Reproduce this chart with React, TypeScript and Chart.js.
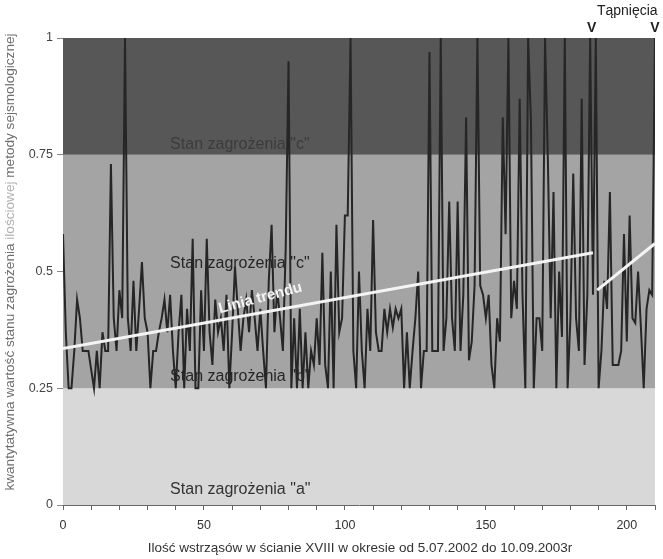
import React, { useEffect, useRef } from 'react';
import { Chart, registerables } from 'chart.js';

Chart.register(...registerables);

const FONT = '"Liberation Sans", Arial, sans-serif';

// Quantitative threat value for consecutive tremors (index = tremor number)
const threatValues = [
  0.58, 0.37, 0.25, 0.25, 0.33, 0.44, 0.40, 0.33, 0.33, 0.33,
  0.29, 0.25, 0.33, 0.25, 0.37, 0.33, 0.33, 0.73, 0.40, 0.33,
  0.46, 0.40, 1.00, 0.40, 0.33, 0.48, 0.33, 0.42, 0.52, 0.40,
  0.37, 0.25, 0.33, 0.33, 0.37, 0.40, 0.44, 0.37, 0.45, 0.33,
  0.25, 0.37, 0.45, 0.25, 0.42, 0.33, 0.57, 0.25, 0.25, 0.46,
  0.33, 0.57, 0.37, 0.30, 0.44, 0.37, 0.40, 0.33, 0.45, 0.25,
  0.37, 0.51, 0.42, 0.33, 0.40, 0.44, 0.37, 0.46, 0.40, 0.33,
  0.42, 0.33, 0.25, 0.48, 0.60, 0.37, 0.46, 0.40, 0.33, 0.55,
  0.95, 0.25, 0.40, 0.25, 0.42, 0.25, 0.37, 0.25, 0.33, 0.30,
  0.40, 0.30, 0.54, 0.30, 0.25, 0.50, 0.25, 0.60, 0.37, 0.40,
  0.62, 0.62, 1.00, 0.33, 0.25, 0.50, 0.33, 0.25, 0.42, 0.33,
  0.61, 0.37, 0.33, 0.33, 0.42, 0.37, 0.42, 0.38, 0.42, 0.40,
  0.42, 0.25, 0.37, 0.25, 0.33, 0.40, 0.50, 0.25, 0.33, 0.33,
  0.97, 0.33, 0.33, 0.33, 1.00, 0.33, 0.40, 0.65, 0.40, 0.33,
  0.65, 0.33, 0.45, 0.83, 0.31, 0.35, 0.47, 1.00, 0.47, 0.45,
  0.40, 0.45, 0.30, 0.25, 0.40, 0.35, 0.83, 0.58, 1.00, 0.40,
  0.48, 0.42, 0.87, 0.45, 0.25, 1.00, 0.82, 0.25, 0.40, 0.40,
  0.33, 1.00, 0.74, 0.40, 0.67, 0.25, 0.50, 0.36, 1.00, 0.25,
  0.40, 0.71, 0.40, 0.33, 0.87, 0.30, 0.45, 1.00, 0.45, 1.00,
  0.25, 0.33, 0.48, 0.42, 0.67, 0.30, 0.30, 0.30, 0.33, 0.58,
  0.35, 0.62, 0.40, 0.39, 0.50, 0.38, 0.25, 0.42, 0.46, 0.45,
  1.00,
];

// Trend lines (two segments: before and after the first rockburst)
const trendAX = [0, 188];
const trendAY = [0.335, 0.54];
const trendBX = [189.5, 210];
const trendBY = [0.46, 0.56];

// Threat-state bands
const bandLimits = [0, 0.25, 0.75, 1];
const bandColors = ['#d8d8d8', '#a4a4a4', '#575757'];
const bandLabels = [
  'Stan zagrożenia "a"',
  'Stan zagrożenia "b"',
  'Stan zagrożenia "c"',
  'Stan zagrożenia "c"',
];
const bandLabelY = [0.032, 0.276, 0.518, 0.771];
const bandLabelColors = ['#333333', '#262626', '#262626', '#3c3c3c'];

// Rockbursts (Tąpnięcia)
const rockburstX = [187.5, 210];

const xLabelEvery = 50;
const yTitleParts = [
  { text: 'kwantytatywna wartość stanu zagrożenia ', color: '#6e6e6e' },
  { text: 'ilościowej', color: '#b0b0b0' },
  { text: ' metody sejsmologicznej', color: '#6e6e6e' },
];
const xTitle = 'Ilość wstrząsów w ścianie XVIII w okresie od 5.07.2002 do 10.09.2003r';

const decorPlugin = {
  id: 'decor',
  beforeDraw(chart: any) {
    const { ctx, chartArea, scales } = chart;
    const y = scales.y;
    ctx.save();
    for (let i = 0; i < bandColors.length; i++) {
      const top = y.getPixelForValue(bandLimits[i + 1]);
      const bot = y.getPixelForValue(bandLimits[i]);
      ctx.fillStyle = bandColors[i];
      ctx.fillRect(chartArea.left, top, chartArea.right - chartArea.left, bot - top);
    }
    ctx.restore();
  },
  beforeDatasetsDraw(chart: any) {
    const { ctx, scales } = chart;
    const x = scales.x;
    const y = scales.y;
    ctx.save();
    ctx.font = `16px ${FONT}`;
    ctx.textAlign = 'left';
    ctx.textBaseline = 'middle';
    for (let i = 0; i < bandLabels.length; i++) {
      ctx.fillStyle = bandLabelColors[i];
      ctx.fillText(bandLabels[i], x.getPixelForValue(38), y.getPixelForValue(bandLabelY[i]));
    }
    ctx.restore();
  },
  afterDatasetsDraw(chart: any) {
    const { ctx, scales } = chart;
    const x = scales.x;
    const y = scales.y;
    ctx.save();
    // Linia trendu
    ctx.translate(x.getPixelForValue(70), y.getPixelForValue(0.443));
    ctx.rotate((-15 * Math.PI) / 180);
    ctx.font = `bold 15px ${FONT}`;
    ctx.fillStyle = '#f4f4f4';
    ctx.textAlign = 'center';
    ctx.textBaseline = 'middle';
    ctx.fillText('Linia trendu', 0, 0);
    ctx.restore();

    ctx.save();
    // Tąpnięcia
    ctx.fillStyle = '#222222';
    ctx.textAlign = 'center';
    ctx.textBaseline = 'middle';
    ctx.font = `14px ${FONT}`;
    const p0 = x.getPixelForValue(rockburstX[0]);
    const p1 = x.getPixelForValue(rockburstX[1]);
    ctx.fillText('Tąpnięcia', (p0 + p1) / 2 + 4, 11);
    ctx.font = `bold 14px ${FONT}`;
    for (const rx of rockburstX) {
      ctx.fillText('V', x.getPixelForValue(rx), 28);
    }
    ctx.restore();

    ctx.save();
    // x title
    ctx.fillStyle = '#333333';
    ctx.font = `13.5px ${FONT}`;
    ctx.textAlign = 'center';
    ctx.textBaseline = 'middle';
    ctx.fillText(xTitle, 360, 548);
    // y title
    ctx.translate(10, 262);
    ctx.rotate(-Math.PI / 2);
    ctx.font = `13.6px ${FONT}`;
    ctx.textBaseline = 'middle';
    ctx.textAlign = 'left';
    const total = yTitleParts.reduce((s, p) => s + ctx.measureText(p.text).width, 0);
    let cx = -total / 2;
    for (const p of yTitleParts) {
      ctx.fillStyle = p.color;
      ctx.fillText(p.text, cx, 0);
      cx += ctx.measureText(p.text).width;
    }
    ctx.restore();
  },
};

export default function App() {
  const ref = useRef<HTMLCanvasElement | null>(null);
  useEffect(() => {
    if (!ref.current) return;
    const mainPoints = threatValues.map((v, i) => ({ x: i, y: v }));
    const trendA = trendAX.map((v, i) => ({ x: v, y: trendAY[i] }));
    const trendB = trendBX.map((v, i) => ({ x: v, y: trendBY[i] }));
    const chart = new Chart(ref.current, {
      type: 'line',
      data: {
        datasets: [
          {
            data: mainPoints,
            borderColor: '#262626',
            borderWidth: 2,
            pointRadius: 0,
            tension: 0,
            order: 2,
          },
          {
            data: trendA,
            borderColor: '#f4f4f4',
            borderWidth: 3,
            pointRadius: 0,
            order: 1,
          },
          {
            data: trendB,
            borderColor: '#f4f4f4',
            borderWidth: 3,
            pointRadius: 0,
            order: 1,
          },
        ],
      },
      options: {
        animation: false,
        responsive: false,
        maintainAspectRatio: false,
        layout: { padding: { top: 38, right: 6, left: 0, bottom: 0 } },
        plugins: {
          legend: { display: false },
          tooltip: { enabled: false },
        },
        scales: {
          x: {
            type: 'linear',
            min: 0,
            max: 210,
            afterFit(scale: any) {
              scale.height = 54;
            },
            border: { display: true, color: '#666666', width: 1 },
            grid: {
              drawOnChartArea: false,
              drawTicks: true,
              tickLength: 5,
              color: '#666666',
            },
            ticks: {
              stepSize: 10,
              autoSkip: false,
              maxRotation: 0,
              padding: 8,
              color: '#333333',
              font: { family: FONT, size: 12.5 },
              callback: (v: any) => (Number(v) % xLabelEvery === 0 ? String(v) : ''),
            },
          },
          y: {
            min: 0,
            max: 1,
            afterFit(scale: any) {
              scale.width = 63;
            },
            border: { display: false },
            grid: {
              drawOnChartArea: false,
              drawTicks: true,
              tickLength: 6,
              color: '#888888',
            },
            ticks: {
              stepSize: 0.25,
              padding: 4,
              color: '#444444',
              font: { family: FONT, size: 12.5 },
              callback: (v: any) => String(v),
            },
          },
        },
      },
      plugins: [decorPlugin],
    });
    return () => chart.destroy();
  }, []);
  return (
    <div style={{ position: 'fixed', left: 0, top: 0, width: 663, height: 559, background: '#ffffff' }}>
      <canvas ref={ref} width={663} height={559} />
    </div>
  );
}
